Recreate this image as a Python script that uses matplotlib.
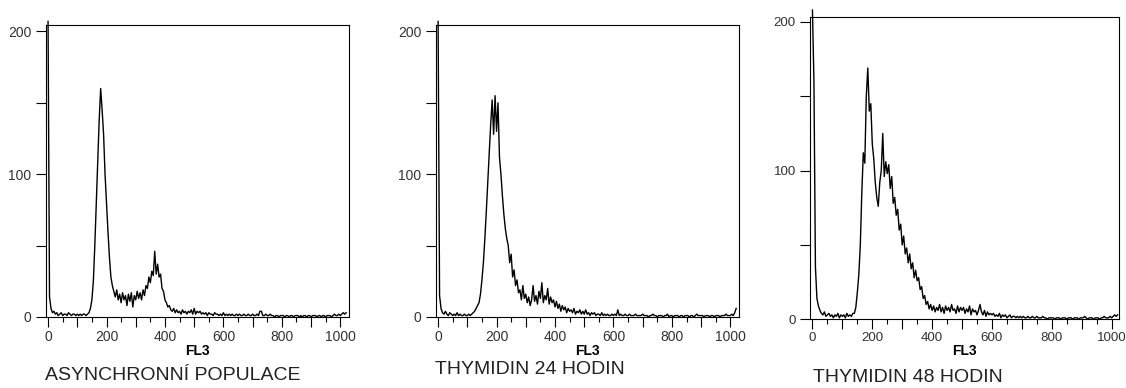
import numpy as np
import matplotlib
matplotlib.use("Agg")
import matplotlib.pyplot as plt
from matplotlib.ticker import MultipleLocator

plt.rcParams['font.family'] = ['Liberation Sans', 'DejaVu Sans']

# FL3 channels, one reading every 5 channels
channels = list(range(0, 1025, 5))

titles = ["ASYNCHRONNÍ POPULACE", "THYMIDIN 24 HODIN", "THYMIDIN 48 HODIN"]

counts_async = [
    207, 14, 6, 3, 4, 2, 3, 1, 2, 3, 1, 2, 2, 1, 3, 2, 1, 2, 2, 1,
    2, 1, 2, 1, 2, 2, 1, 2, 3, 6, 12, 25, 50, 80, 112, 138, 160, 145, 128, 100,
    80, 60, 42, 28, 22, 18, 14, 19, 12, 16, 10, 17, 12, 15, 8, 16, 11, 17, 7, 15,
    12, 18, 13, 17, 12, 19, 15, 22, 20, 28, 24, 32, 29, 46, 30, 37, 28, 30, 20, 18,
    12, 10, 7, 8, 5, 4, 6, 3, 5, 3, 4, 2, 5, 3, 4, 2, 4, 3, 5, 2,
    6, 2, 4, 3, 4, 2, 3, 2, 3, 1, 3, 2, 2, 1, 3, 2, 2, 1, 2, 1,
    3, 1, 2, 1, 2, 1, 2, 1, 1, 2, 1, 2, 1, 1, 2, 1, 1, 2, 1, 1,
    2, 1, 1, 2, 1, 4, 4, 1, 1, 2, 1, 1, 2, 1, 1, 0, 1, 1, 0, 1,
    1, 1, 0, 1, 1, 0, 1, 1, 0, 1, 1, 1, 0, 1, 0, 1, 1, 0, 1, 1,
    0, 1, 1, 1, 0, 1, 1, 0, 1, 1, 0, 1, 1, 1, 0, 1, 2, 1, 1, 2,
    1, 2, 3, 2, 3,
]

counts_thy24 = [
    207, 15, 6, 3, 2, 4, 2, 1, 3, 2, 1, 2, 1, 3, 1, 2, 1, 1, 2, 1,
    1, 2, 1, 2, 3, 4, 6, 8, 10, 16, 26, 38, 55, 74, 95, 115, 135, 152, 128, 155,
    130, 150, 112, 100, 85, 72, 62, 55, 50, 38, 44, 28, 33, 22, 26, 17, 19, 12, 22, 13,
    16, 10, 14, 8, 12, 22, 11, 15, 9, 18, 13, 24, 10, 15, 12, 20, 9, 14, 10, 12,
    7, 11, 6, 9, 4, 8, 5, 7, 3, 6, 4, 5, 3, 6, 2, 4, 3, 5, 2, 4,
    2, 5, 2, 3, 1, 3, 2, 3, 1, 2, 2, 1, 3, 1, 2, 1, 2, 1, 1, 2,
    1, 2, 1, 5, 1, 2, 1, 1, 2, 1, 1, 2, 1, 1, 1, 2, 1, 1, 1, 1,
    2, 1, 1, 1, 0, 1, 1, 2, 1, 1, 0, 1, 1, 1, 0, 1, 1, 2, 0, 1,
    1, 0, 1, 1, 1, 0, 1, 1, 0, 1, 1, 1, 0, 1, 1, 0, 1, 2, 1, 1,
    1, 1, 0, 1, 1, 1, 0, 1, 1, 0, 1, 1, 1, 0, 1, 1, 1, 2, 1, 1,
    1, 2, 1, 3, 6,
]

counts_thy48 = [
    208, 160, 35, 14, 9, 6, 4, 3, 5, 2, 3, 4, 2, 3, 1, 3, 2, 4, 1, 3,
    2, 3, 1, 4, 2, 3, 2, 4, 4, 8, 18, 30, 50, 85, 112, 105, 150, 169, 140, 145,
    118, 108, 92, 82, 76, 92, 100, 125, 96, 106, 98, 104, 88, 96, 78, 82, 70, 74, 60, 64,
    50, 56, 44, 48, 38, 44, 34, 38, 28, 33, 26, 28, 20, 22, 14, 16, 10, 12, 7, 10,
    6, 9, 5, 8, 6, 10, 5, 8, 4, 9, 6, 8, 5, 10, 6, 7, 4, 9, 5, 8,
    6, 8, 4, 7, 5, 9, 3, 7, 5, 6, 3, 6, 10, 5, 3, 6, 2, 5, 3, 4,
    3, 4, 2, 3, 2, 4, 1, 3, 2, 3, 1, 2, 3, 1, 2, 2, 1, 2, 1, 2,
    1, 2, 1, 1, 2, 1, 1, 2, 1, 1, 2, 1, 1, 1, 2, 1, 1, 0, 1, 1,
    1, 1, 0, 1, 1, 1, 0, 1, 1, 1, 0, 1, 1, 1, 0, 1, 1, 1, 0, 1,
    1, 1, 2, 1, 0, 1, 1, 1, 0, 1, 1, 1, 0, 1, 1, 2, 1, 1, 1, 2,
    1, 2, 3, 2, 3,
]

all_counts = [counts_async, counts_thy24, counts_thy48]

# axes boxes in figure fractions [left, bottom, width, height]
boxes = [
    [0.0406, 0.183, 0.2694, 0.7526],
    [0.3870, 0.183, 0.2694, 0.7526],
    [0.7194, 0.177, 0.2745, 0.7780],
]
ytops = [204.5, 204.5, 203]
xright = [1030, 1030, 1025]
tick_fs = [10, 10, 9.6]
title_pos = [(45, 376), (435, 370), (813, 378)]

fig = plt.figure(figsize=(11.26, 3.88), dpi=100)

for i in range(3):
    ax = fig.add_axes(boxes[i])
    ax.plot(channels, all_counts[i], color='black', lw=1.0, clip_on=False)
    ax.set_xlim(-8, xright[i])
    ax.set_ylim(0, ytops[i])

    ax.set_xticks(range(0, 1001, 100))
    ax.set_xticklabels([str(v) if v % 200 == 0 else '' for v in range(0, 1001, 100)])
    ax.xaxis.set_minor_locator(MultipleLocator(50))

    ax.set_yticks([0, 50, 100, 150, 200])
    ax.set_yticklabels(['0', '', '100', '', '200'])

    ax.tick_params(axis='both', which='major', direction='out', length=7.2,
                   width=0.8, labelsize=tick_fs[i], labelcolor='#333333', pad=2)
    ax.tick_params(axis='x', which='minor', direction='out', length=3.6, width=0.8)
    ax.tick_params(axis='y', pad=3)

    ax.set_xlabel('FL3', fontsize=10, fontweight='bold', labelpad=0)
    for s in ax.spines.values():
        s.set_linewidth(0.8)

    tx, ty = title_pos[i]
    fig.text(tx / 1126, 1 - ty / 388, titles[i], fontsize=14, color='#222222',
             ha='left', va='center')

fig.savefig('out.png', dpi=100)
